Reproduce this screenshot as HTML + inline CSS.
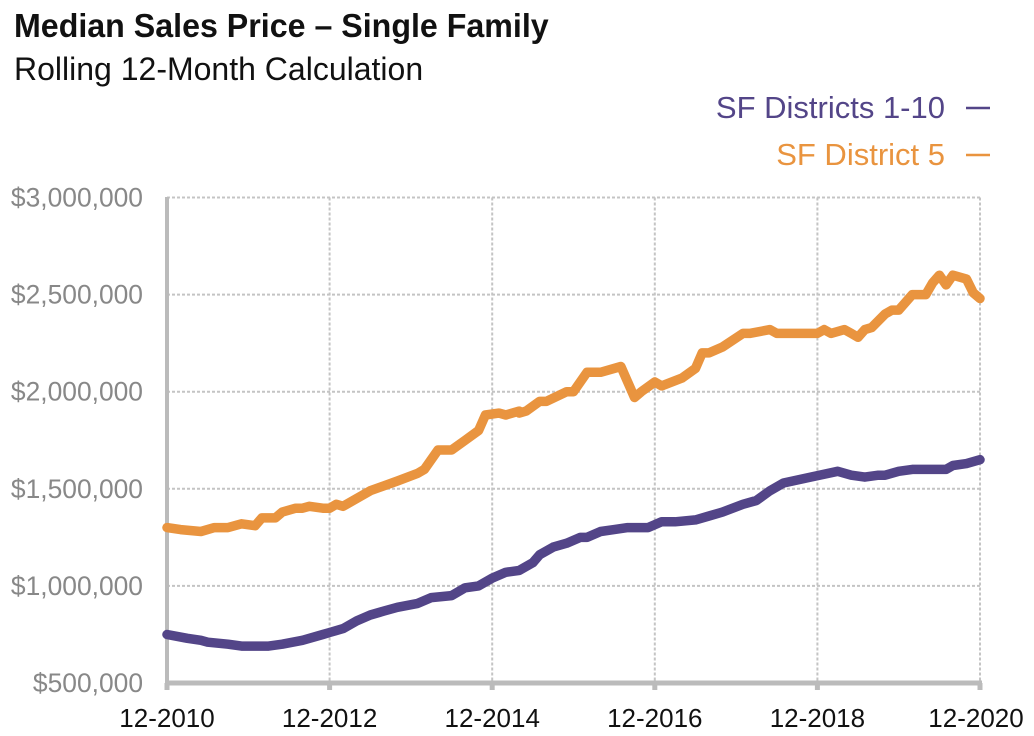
<!DOCTYPE html>
<html><head><meta charset="utf-8"><style>
body{margin:0;background:#fff;width:1034px;height:736px;overflow:hidden;font-family:"Liberation Sans Narrow","Liberation Sans",sans-serif}
.t{position:absolute;white-space:nowrap}
</style></head><body>
<div class="t" style="left:14px;top:7px;font-size:33px;font-weight:bold;color:#111;transform:scaleX(0.975);transform-origin:left">Median Sales Price – Single Family</div>
<div class="t" style="left:14px;top:51px;font-size:32px;color:#111;transform:scaleX(1.0);transform-origin:left">Rolling 12-Month Calculation</div>
<svg width="1034" height="736" style="position:absolute;left:0;top:0">
<g id="grid"></g><g id="axes"></g><g id="lines"></g><g id="labels"></g>
<text x="945" y="118" text-anchor="end" font-size="31" fill="#534588" font-family="Liberation Sans Narrow, Liberation Sans, sans-serif">SF Districts 1-10</text>
<line x1="966" y1="108" x2="990" y2="108" stroke="#534588" stroke-width="2.5"/>
<text x="945" y="165" text-anchor="end" font-size="31" fill="#e9943f" font-family="Liberation Sans Narrow, Liberation Sans, sans-serif">SF District 5</text>
<line x1="966" y1="155" x2="990" y2="155" stroke="#e9943f" stroke-width="2.5"/>
</svg>
<script>
const yTicks=[500000,1000000,1500000,2000000,2500000,3000000];
const yTickLabels=["$500,000","$1,000,000","$1,500,000","$2,000,000","$2,500,000","$3,000,000"];
const xTicks=[0,24,48,72,96,120];
const xTickLabels=["12-2010","12-2012","12-2014","12-2016","12-2018","12-2020"];
const orangeMonths=[0,2,5,7,9,11,13,14,16,17,19,20,21,23,24,25,26,28,30,34,37,38,40,42,44,46,46,47,49,50,52,52,53,55,56,59,60,62,64,67,68,69,70,72,73,76,76,78,79,80,82,85,86,89,90,92,94,96,97,98,100,101,101,102,103,104,106,107,108,110,112,113,114,114,115,116,118,119,120];
const orangeVals=[1.30,1.29,1.28,1.30,1.30,1.32,1.31,1.35,1.35,1.38,1.40,1.40,1.41,1.40,1.40,1.42,1.41,1.45,1.49,1.54,1.58,1.60,1.70,1.70,1.75,1.80,1.80,1.88,1.89,1.88,1.90,1.89,1.90,1.95,1.95,2.00,2.00,2.10,2.10,2.13,2.05,1.97,2.00,2.05,2.03,2.07,2.07,2.12,2.20,2.20,2.23,2.30,2.30,2.32,2.30,2.30,2.30,2.30,2.32,2.30,2.32,2.30,2.30,2.28,2.32,2.33,2.40,2.42,2.42,2.50,2.50,2.56,2.60,2.60,2.55,2.60,2.58,2.51,2.48];
const purpleMonths=[0,3,5,6,9,11,13,15,17,20,23,24,26,28,30,32,34,37,39,42,42,44,46,48,50,52,54,55,57,59,61,62,64,66,68,70,71,73,75,78,80,82,85,87,89,91,95,99,101,103,105,106,108,110,113,115,116,118,120];
const purpleVals=[0.75,0.73,0.72,0.71,0.70,0.69,0.69,0.69,0.70,0.72,0.75,0.76,0.78,0.82,0.85,0.87,0.89,0.91,0.94,0.95,0.95,0.99,1.00,1.04,1.07,1.08,1.12,1.16,1.20,1.22,1.25,1.25,1.28,1.29,1.30,1.30,1.30,1.33,1.33,1.34,1.36,1.38,1.42,1.44,1.49,1.53,1.56,1.59,1.57,1.56,1.57,1.57,1.59,1.60,1.60,1.60,1.62,1.63,1.65];
const NS="http://www.w3.org/2000/svg";
const X=m=>167+m*(980-167)/120;
const Y=v=>683-(v-500000)*(683-197.5)/2500000;
function mk(p,tag,at){const e=document.createElementNS(NS,tag);for(const k in at)e.setAttribute(k,at[k]);document.getElementById(p).appendChild(e);return e;}
yTicks.forEach((v,i)=>{
 if(i>0){const g=mk('grid','line',{x1:167,x2:980,y1:Y(v),y2:Y(v),stroke:'#c4c4c4','stroke-width':2,'stroke-dasharray':'3,2'});
 
 }
 const t=mk('labels','text',{x:143,y:Y(v)+9,'text-anchor':'end','font-size':26.4,fill:'#888','font-family':'Liberation Sans, sans-serif'});
 t.textContent=yTickLabels[i];
 
 
});
xTicks.forEach((m,i)=>{
 if(i>0){const g=mk('grid','line',{x1:X(m),x2:X(m),y1:197.5,y2:683,stroke:'#c4c4c4','stroke-width':2,'stroke-dasharray':'3,2'});
 
 }
 const tk=mk('axes','line',{x1:X(m),x2:X(m),y1:683,y2:690,stroke:'#bbb','stroke-width':5});
 
 
 const t=mk('labels','text',{x:X(m)+(i==5?-4:0),y:727,'text-anchor':'middle','font-size':26,fill:'#111','font-family':'Liberation Sans, sans-serif'});
 t.textContent=xTickLabels[i];
 
 
});
const ya=mk('axes','line',{x1:167,x2:167,y1:197,y2:690,stroke:'#bbb','stroke-width':4});


const xa=mk('axes','line',{x1:165,x2:982,y1:683,y2:683,stroke:'#bbb','stroke-width':5});


function line(ms,vs,c,name){
 const d=ms.map((m,i)=>(i?'L':'M')+X(m).toFixed(1)+','+Y(vs[i]*1e6).toFixed(1)).join('');
 const p=mk('lines','path',{d:d,fill:'none',stroke:c,'stroke-width':9.5,'stroke-linejoin':'round','stroke-linecap':'round'});
 
 
}
line(orangeMonths,orangeVals,'#e9943f','series-district-5');
line(purpleMonths,purpleVals,'#534588','series-districts-1-10');
</script>
</body></html>
